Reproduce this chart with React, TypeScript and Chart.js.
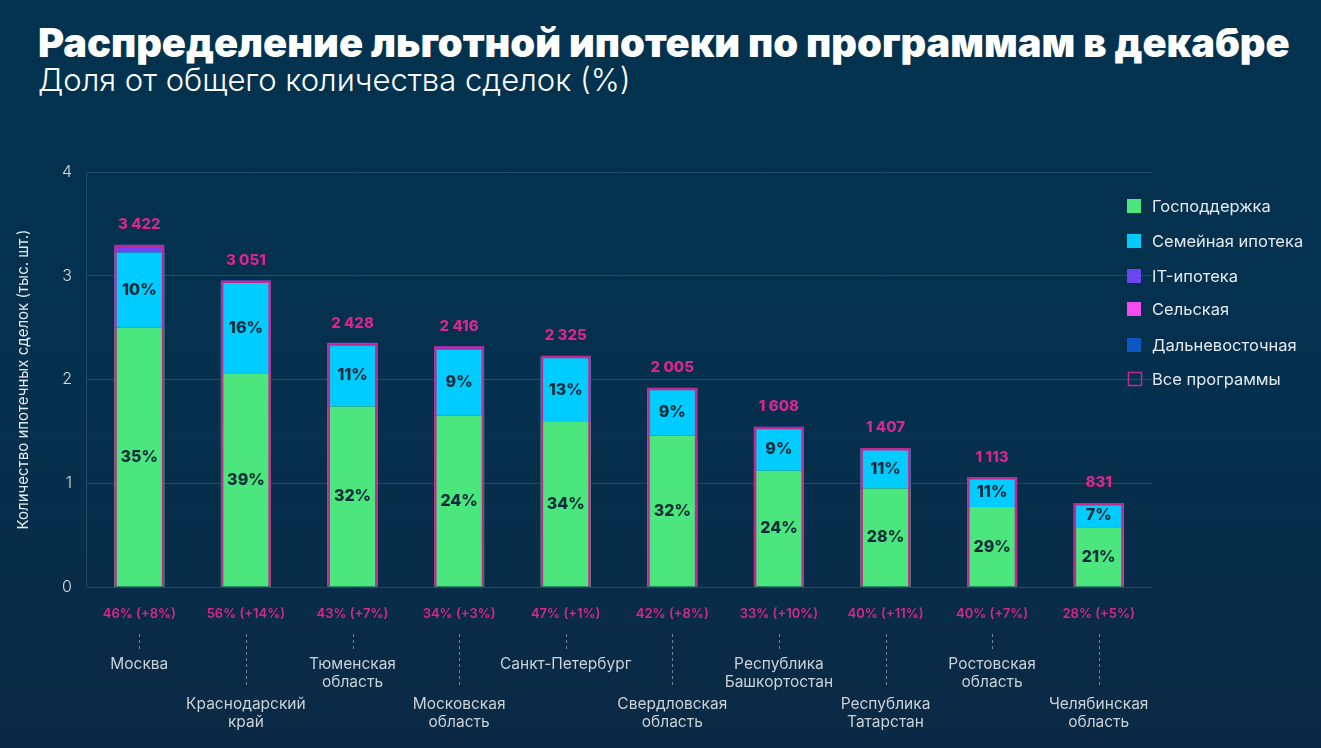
import React, { useEffect, useRef } from "react";
import { Chart, registerables } from "chart.js";

Chart.register(...registerables);

// ---------- data ----------
const categories: string[][] = [
  ["Москва"],
  ["Краснодарский", "край"],
  ["Тюменская", "область"],
  ["Московская", "область"],
  ["Санкт-Петербург"],
  ["Свердловская", "область"],
  ["Республика", "Башкортостан"],
  ["Республика", "Татарстан"],
  ["Ростовская", "область"],
  ["Челябинская", "область"],
];

// thousands of deals
const gospodderzhka = [2.5, 2.06, 1.74, 1.65, 1.59, 1.46, 1.12, 0.95, 0.77, 0.575];
const semeinaya = [0.725, 0.87, 0.61, 0.64, 0.62, 0.45, 0.42, 0.38, 0.29, 0.235];
const itIpoteka = [0.075, 0.025, 0.005, 0.03, 0.02, 0.01, 0.005, 0.01, 0.0, 0.0];
const selskaya = [0, 0, 0, 0, 0, 0, 0, 0, 0, 0];
const dalnevostochnaya = [0, 0, 0, 0, 0, 0, 0, 0, 0, 0];
const vseProgrammy = [3.3, 2.955, 2.35, 2.32, 2.23, 1.92, 1.545, 1.34, 1.06, 0.81];

const gospodderzhkaPct = ["35%", "39%", "32%", "24%", "34%", "32%", "24%", "28%", "29%", "21%"];
const semeinayaPct = ["10%", "16%", "11%", "9%", "13%", "9%", "9%", "11%", "11%", "7%"];
const totalLabels = ["3 422", "3 051", "2 428", "2 416", "2 325", "2 005", "1 608", "1 407", "1 113", "831"];
const shareLabels = [
  "46% (+8%)",
  "56% (+14%)",
  "43% (+7%)",
  "34% (+3%)",
  "47% (+1%)",
  "42% (+8%)",
  "33% (+10%)",
  "40% (+11%)",
  "40% (+7%)",
  "28% (+5%)",
];
const yTicks = [0, 1, 2, 3, 4];

const FONT = "Inter, 'Noto Sans', 'DejaVu Sans', sans-serif";
const PINK = "#d9268e";
const OUTLINE = "#c4288f";

const overlayPlugin = {
  id: "overlay",
  afterDatasetsDraw(chart: any) {
    const ctx = chart.ctx;
    const x = chart.scales.x;
    const greenMeta = chart.getDatasetMeta(0);
    const cyanMeta = chart.getDatasetMeta(1);
    const allMeta = chart.getDatasetMeta(5);
    ctx.save();
    ctx.textAlign = "center";
    ctx.textBaseline = "middle";
    // inside labels
    ctx.fillStyle = "#0e2c3a";
    ctx.font = `800 16px ${FONT}`;
    greenMeta.data.forEach((el: any, i: number) => {
      ctx.fillText(gospodderzhkaPct[i], el.x, (el.y + el.base) / 2);
    });
    cyanMeta.data.forEach((el: any, i: number) => {
      ctx.fillText(semeinayaPct[i], el.x, (el.y + el.base) / 2);
    });
    // totals
    ctx.fillStyle = PINK;
    ctx.font = `800 15px ${FONT}`;
    allMeta.data.forEach((el: any, i: number) => {
      ctx.fillText(totalLabels[i], el.x, el.y - 20);
    });
    // bottom labels
    const bottom = chart.chartArea.bottom;
    categories.forEach((lines, i) => {
      const cx = x.getPixelForValue(i);
      ctx.fillStyle = PINK;
      ctx.font = `600 13px ${FONT}`;
      ctx.fillText(shareLabels[i], cx, bottom + 27);
      const lower = i % 2 === 1;
      ctx.strokeStyle = "rgba(190,205,215,0.55)";
      ctx.lineWidth = 1;
      ctx.setLineDash([3, 3]);
      ctx.beginPath();
      ctx.moveTo(Math.round(cx) + 0.5, bottom + 47);
      ctx.lineTo(Math.round(cx) + 0.5, bottom + (lower ? 100 : 65));
      ctx.stroke();
      ctx.setLineDash([]);
      ctx.fillStyle = "#c9d1d9";
      ctx.font = `400 15.5px ${FONT}`;
      const y0 = bottom + (lower ? 117 : 77);
      lines.forEach((t, k) => ctx.fillText(t, cx, y0 + k * 18));
    });
    // legend
    const items = chart.data.datasets.map((d: any) => d);
    ctx.textAlign = "left";
    ctx.font = `400 16.5px ${FONT}`;
    const ys = [206, 241, 276, 309, 345, 379];
    items.forEach((d: any, i: number) => {
      const y = ys[i];
      if (i === 5) {
        ctx.strokeStyle = OUTLINE;
        ctx.lineWidth = 1.5;
        ctx.strokeRect(1128.5, y - 6.5, 13, 13);
      } else {
        ctx.fillStyle = d.backgroundColor;
        ctx.fillRect(1127, y - 7, 14, 14);
      }
      ctx.fillStyle = "#e4eaef";
      ctx.fillText(d.label, 1152, y + 1);
    });
    ctx.restore();
  },
};

export default function App() {
  const ref = useRef<HTMLCanvasElement>(null);

  useEffect(() => {
    if (!ref.current) return;
    const seg = (label: string, data: number[], color: string) => ({
      label,
      data,
      backgroundColor: color,
      borderWidth: 0,
      stack: "main",
      order: 1,
      barPercentage: 0.47,
      categoryPercentage: 1,
    });
    const chart = new Chart(ref.current, {
      type: "bar",
      data: {
        labels: categories.map((c) => c.join(" ")),
        datasets: [
          seg("Господдержка", gospodderzhka, "#4be67d"),
          seg("Семейная ипотека", semeinaya, "#00ccff"),
          seg("IT-ипотека", itIpoteka, "#6d44f2"),
          seg("Сельская", selskaya, "#f24cf0"),
          seg("Дальневосточная", dalnevostochnaya, "#0b57c6"),
          {
            label: "Все программы",
            data: vseProgrammy,
            backgroundColor: "rgba(0,0,0,0)",
            borderColor: OUTLINE,
            borderWidth: 2.5,
            stack: "all",
            grouped: false,
            order: 0,
            barPercentage: 0.47,
            categoryPercentage: 1,
          } as any,
        ],
      },
      options: {
        animation: false,
        responsive: false,
        devicePixelRatio: 1,
        layout: { padding: { top: 172, left: 14, right: 169, bottom: 161 } },
        plugins: {
          legend: { display: false },
          tooltip: { enabled: false },
          title: { display: false },
        },
        scales: {
          x: { display: false, stacked: true },
          y: {
            stacked: true,
            min: 0,
            max: 4,
            afterFit: (s: any) => {
              s.width = 72;
            },
            afterBuildTicks: (s: any) => {
              s.ticks = yTicks.map((v) => ({ value: v }));
            },
            grid: { color: "rgba(255,255,255,0.13)", drawTicks: false, lineWidth: 1 },
            border: { display: true, color: "rgba(255,255,255,0.13)" },
            ticks: { color: "#d3dae0", font: { family: FONT, size: 16, weight: 300 }, padding: 14 },
            title: {
              display: true,
              text: "Количество ипотечных сделок (тыс. шт.)",
              color: "#e3e9ee",
              font: { family: FONT, size: 15, weight: 400 },
              padding: { top: 0, bottom: 4 },
            },
          },
        },
      },
      plugins: [overlayPlugin],
    });
    return () => chart.destroy();
  }, []);

  return (
    <div
      style={{
        position: "fixed",
        left: 0,
        top: 0,
        width: 1321,
        height: 748,
        background: "linear-gradient(180deg, #03334f 0%, #05304d 55%, #0b2944 100%)",
        overflow: "hidden",
      }}
    >
      <div
        style={{
          position: "absolute",
          left: 38,
          top: 20,
          fontFamily: FONT,
          fontWeight: 900,
          fontSize: 39.8,
          lineHeight: "46px",
          color: "#ffffff",
          whiteSpace: "nowrap",
        }}
      >
        Распределение льготной ипотеки по программам в декабре
      </div>
      <div
        style={{
          position: "absolute",
          left: 38,
          top: 61,
          fontFamily: FONT,
          fontWeight: 300,
          fontSize: 31,
          lineHeight: "38px",
          color: "#ffffff",
          whiteSpace: "nowrap",
        }}
      >
        Доля от общего количества сделок (%)
      </div>
      <canvas ref={ref} width={1321} height={748} style={{ position: "absolute", left: 0, top: 0 }} />
    </div>
  );
}
